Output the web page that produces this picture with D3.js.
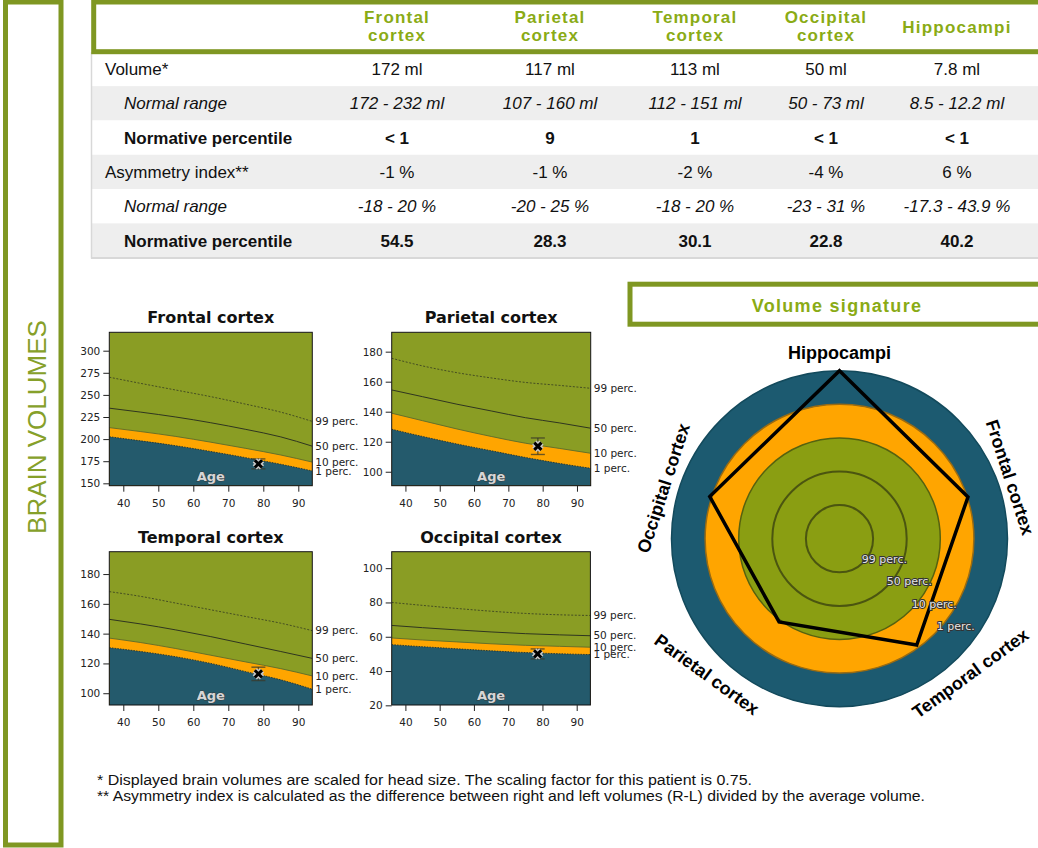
<!DOCTYPE html>
<html>
<head>
<meta charset="utf-8">
<script src="https://cdn.jsdelivr.net/npm/d3@7"></script>
<style>
  body { margin: 0; background: #fff; }
  svg { display: block; }
</style>
</head>
<body>
<div id="chart"></div>
<script>
// ---- table data ----
var regions = ["Frontal cortex", "Parietal cortex", "Temporal cortex", "Occipital cortex", "Hippocampi"];
var headerLines = [["Frontal", "cortex"], ["Parietal", "cortex"], ["Temporal", "cortex"], ["Occipital", "cortex"], ["Hippocampi"]];
var volumes = [172, 117, 113, 50, 7.8];
var volumeLow = [172, 107, 112, 50, 8.5];
var volumeHigh = [232, 160, 151, 73, 12.2];
var volumePercentile = ["< 1", "9", "1", "< 1", "< 1"];
var asymmetry = [-1, -1, -2, -4, 6];
var asymmetryLow = [-18, -20, -18, -23, -17.3];
var asymmetryHigh = [20, 25, 20, 31, 43.9];
var asymmetryPercentile = ["54.5", "28.3", "30.1", "22.8", "40.2"];

// ---- normative curves (volume in ml by age) ----
var ages = [36, 45, 55, 65, 75, 85, 94];
var frontal1  = [202.7, 198, 192.5, 186, 179, 171.5, 164];
var frontal10 = [213, 208.5, 203, 196.5, 189.5, 182, 174];
var frontal50 = [235, 230.5, 225, 218.5, 211, 202.5, 192];
var frontal99 = [270, 263, 255.5, 248, 239.5, 230.5, 220];
var parietal1  = [128.3, 123.5, 118.5, 114, 109.5, 105.5, 102.3];
var parietal10 = [139, 134, 128.5, 123.5, 119, 115.5, 112.3];
var parietal50 = [154.5, 150, 145, 140.5, 136, 132.5, 129];
var parietal99 = [175.6, 170.5, 166, 162.5, 159.5, 157.5, 155.6];
var temporal1  = [130.6, 128, 124.5, 120, 114.5, 109, 102.7];
var temporal10 = [137, 134, 130, 125.5, 121, 116.5, 111.6];
var temporal50 = [149.6, 146.5, 142.5, 138, 133, 128, 123.4];
var temporal99 = [168.2, 165, 160.5, 156, 151.5, 147, 142];
var occipital1  = [55.4, 54.2, 53, 51.8, 50.8, 50.1, 49.6];
var occipital10 = [59.3, 58.1, 57, 55.9, 55, 54.4, 53.9];
var occipital50 = [66.6, 65.3, 64, 62.8, 61.8, 61.1, 60.6];
var occipital99 = [80, 78.3, 76.5, 74.9, 73.6, 72.8, 72.4];

var ageTicks = [40, 50, 60, 70, 80, 90];
var frontalTicks = [150, 175, 200, 225, 250, 275, 300];
var parietalTicks = [100, 120, 140, 160, 180];
var temporalTicks = [100, 120, 140, 160, 180];
var occipitalTicks = [20, 40, 60, 80, 100];
var curveLabels = ["1 perc.", "10 perc.", "50 perc.", "99 perc."];

// patient
var patientAge = 78.6;
var volumeError = [5.6, 5.5, 4.5, 2.9];

// ---- volume signature (ring level, 1 = 99 perc. ... 5 = outer) ----
var radarOrder = ["Hippocampi", "Frontal cortex", "Temporal cortex", "Parietal cortex", "Occipital cortex"];
var radarLevel = [5.0, 4.02, 3.91, 3.06, 4.06];
var ringNames = ["99 perc.", "50 perc.", "10 perc.", "1 perc."];

var footnotes = [
    "* Displayed brain volumes are scaled for head size. The scaling factor for this patient is 0.75.",
    "** Asymmetry index is calculated as the difference between right and left volumes (R-L) divided by the average volume."
];

// ---- colours ----
var border = "#7f9722";
var headGreen = "#8aab15";
var olive = "#8a9d24";
var orange = "#ffa500";
var teal = "#245a6c";

var W = 1038, H = 848;
var svg = d3.select("#chart").append("svg")
    .attr("width", W).attr("height", H)
    .style("font-family", "'Liberation Sans', Arial, sans-serif");

// left side label box
svg.append("rect")
    .attr("x", 5.5).attr("y", 2).attr("width", 55.5).attr("height", 843)
    .attr("fill", "none").attr("stroke", border).attr("stroke-width", 5);
svg.append("text")
    .attr("transform", "translate(46,427) rotate(-90)")
    .attr("text-anchor", "middle")
    .attr("fill", "#86a02a")
    .style("font-size", "26px")
    .text("BRAIN VOLUMES");

// ---- table ----
var colX = [397, 550, 695, 826, 957];
var rowY = function(i) { return 69 + i * 34.3; };

var rows = [
    {label: "Volume*", x: 105, style: "normal", weight: "normal",
     values: volumes.map(function(v) { return v + " ml"; })},
    {label: "Normal range", x: 124, style: "italic", weight: "normal",
     values: volumeLow.map(function(v, i) { return v + " - " + volumeHigh[i] + " ml"; })},
    {label: "Normative percentile", x: 124, style: "normal", weight: "bold",
     values: volumePercentile},
    {label: "Asymmetry index**", x: 105, style: "normal", weight: "normal",
     values: asymmetry.map(function(v) { return v + " %"; })},
    {label: "Normal range", x: 124, style: "italic", weight: "normal",
     values: asymmetryLow.map(function(v, i) { return v + " - " + asymmetryHigh[i] + " %"; })},
    {label: "Normative percentile", x: 124, style: "normal", weight: "bold",
     values: asymmetryPercentile}
];

var table = svg.append("g");
table.selectAll(".rowbg")
    .data(rows)
    .enter()
    .append("rect")
    .attr("class", "rowbg")
    .attr("x", 92).attr("width", W - 92)
    .attr("y", function(d, i) { return rowY(i) - 17.15; })
    .attr("height", 34.3)
    .attr("fill", function(d, i) { return i % 2 ? "#eeeeee" : "#ffffff"; });
table.append("line")
    .attr("x1", 91.5).attr("x2", 91.5).attr("y1", 52).attr("y2", 258.5)
    .attr("stroke", "#d8d8d8").attr("stroke-width", 1.5);
table.append("line")
    .attr("x1", 91).attr("x2", W).attr("y1", 258).attr("y2", 258)
    .attr("stroke", "#d8d8d8").attr("stroke-width", 2);

var rowG = table.selectAll(".row")
    .data(rows)
    .enter()
    .append("g")
    .attr("class", "row")
    .attr("transform", function(d, i) { return "translate(0," + (rowY(i) + 6) + ")"; })
    .style("font-style", function(d) { return d.style; })
    .style("font-weight", function(d) { return d.weight; })
    .style("font-size", "17px")
    .attr("fill", "#111");
rowG.append("text")
    .attr("x", function(d) { return d.x; })
    .text(function(d) { return d.label; });
rowG.selectAll(".cell")
    .data(function(d) { return d.values; })
    .enter()
    .append("text")
    .attr("class", "cell")
    .attr("x", function(d, i) { return colX[i]; })
    .attr("text-anchor", "middle")
    .text(function(d) { return d; });

// header box
svg.append("rect")
    .attr("x", 93.7).attr("y", 2).attr("width", 960).attr("height", 49.7)
    .attr("fill", "#fff").attr("stroke", border).attr("stroke-width", 5);
var head = svg.selectAll(".head")
    .data(headerLines)
    .enter()
    .append("text")
    .attr("class", "head")
    .attr("text-anchor", "middle")
    .attr("fill", headGreen)
    .style("font-weight", "bold")
    .style("font-size", "17px")
    .style("letter-spacing", "1.2px");
head.selectAll("tspan")
    .data(function(d) { return d; })
    .enter()
    .append("tspan")
    .attr("x", function() { return colX[headerLines.indexOf(d3.select(this.parentNode).datum())]; })
    .attr("y", function(d, i, n) { return n.length === 1 ? 33 : (i === 0 ? 23 : 41); })
    .text(function(d) { return d; });

// ---- small normative charts ----
var chartSpecs = [
    {name: regions[0], p: [frontal1, frontal10, frontal50, frontal99], yDomain: [147.3, 320.8], ticks: frontalTicks},
    {name: regions[1], p: [parietal1, parietal10, parietal50, parietal99], yDomain: [90.7, 192.9], ticks: parietalTicks},
    {name: regions[2], p: [temporal1, temporal10, temporal50, temporal99], yDomain: [92.1, 195], ticks: temporalTicks},
    {name: regions[3], p: [occipital1, occipital10, occipital50, occipital99], yDomain: [20.2, 109.6], ticks: occipitalTicks}
];
var cells = [
    {x: 109.3, y: 332.3, w: 203, h: 153.4},
    {x: 391.7, y: 332.3, w: 199, h: 153.4},
    {x: 109.3, y: 551.7, w: 203, h: 153.3},
    {x: 391.7, y: 551.7, w: 198.7, h: 153.3}
];
var lineStyles = [
    {stroke: "#1d3336", width: 0.9, dash: "1.5,1.2"},
    {stroke: "#5d6b2a", width: 0.9, dash: null},
    {stroke: "#2f3520", width: 1.0, dash: null},
    {stroke: "#343a22", width: 0.8, dash: "2,1.6"}
];

chartSpecs.forEach(function(spec, k) {
    var c = cells[k];
    var g = svg.append("g")
        .attr("transform", "translate(" + c.x + "," + c.y + ")")
        .style("font-family", "'DejaVu Sans', sans-serif");
    var x = d3.scaleLinear().domain([36, 94]).range([0, c.w]);
    var y = d3.scaleLinear().domain(spec.yDomain).range([c.h, 0]);

    g.append("clipPath").attr("id", "clip" + k)
        .append("rect").attr("width", c.w).attr("height", c.h);
    var plot = g.append("g").attr("clip-path", "url(#clip" + k + ")");

    plot.append("rect").attr("width", c.w).attr("height", c.h).attr("fill", olive);
    var area = function(vals) {
        return d3.area()
            .x(function(d, i) { return x(ages[i]); })
            .y0(c.h)
            .y1(function(d) { return y(d); })
            .curve(d3.curveMonotoneX)(vals);
    };
    plot.append("path").attr("d", area(spec.p[1])).attr("fill", orange);
    plot.append("path").attr("d", area(spec.p[0])).attr("fill", teal);

    var line = d3.line()
        .x(function(d, i) { return x(ages[i]); })
        .y(function(d) { return y(d); })
        .curve(d3.curveMonotoneX);
    spec.p.forEach(function(vals, j) {
        var s = lineStyles[j];
        plot.append("path")
            .attr("d", line(vals))
            .attr("fill", "none")
            .attr("stroke", s.stroke)
            .attr("stroke-width", s.width)
            .attr("stroke-dasharray", s.dash);
    });

    plot.append("text")
        .attr("x", c.w / 2).attr("y", c.h - 5)
        .attr("text-anchor", "middle")
        .attr("fill", "#d6d6d6")
        .attr("stroke", "#3a3a3a").attr("stroke-width", 0.8)
        .style("paint-order", "stroke")
        .style("font-weight", "bold").style("font-size", "13px")
        .text("Age");

    // patient marker with error bar
    var v = volumes[k], e = volumeError[k], px = x(patientAge);
    var eb = g.append("g").attr("stroke", "#3a3a2a").attr("stroke-opacity", 0.75).attr("stroke-width", 1.4);
    eb.append("line").attr("x1", px).attr("x2", px).attr("y1", y(v - e)).attr("y2", y(v + e));
    [v - e, v + e].forEach(function(t) {
        eb.append("line").attr("x1", px - 7).attr("x2", px + 7).attr("y1", y(t)).attr("y2", y(t));
    });
    var cross = "M-3.6,-3.6L3.6,3.6M-3.6,3.6L3.6,-3.6";
    g.append("path").attr("d", cross)
        .attr("transform", "translate(" + px + "," + y(v) + ")")
        .attr("stroke", "#c8c8c8").attr("stroke-width", 6).attr("fill", "none");
    g.append("path").attr("d", cross)
        .attr("transform", "translate(" + px + "," + y(v) + ")")
        .attr("stroke", "#000").attr("stroke-width", 3).attr("fill", "none");

    // frame and axes
    g.append("rect").attr("width", c.w).attr("height", c.h)
        .attr("fill", "none").attr("stroke", "#111").attr("stroke-width", 1);
    var yAxis = g.append("g")
        .call(d3.axisLeft(y).tickValues(spec.ticks).tickSize(6).tickPadding(3).tickSizeOuter(0));
    var xAxis = g.append("g").attr("transform", "translate(0," + c.h + ")")
        .call(d3.axisBottom(x).tickValues(ageTicks).tickSize(6).tickPadding(8).tickSizeOuter(0));
    [xAxis, yAxis].forEach(function(a) {
        a.select(".domain").remove();
        a.selectAll("line").attr("stroke", "#222");
        a.selectAll("text").attr("fill", "#222")
            .style("font-size", "10.5px").style("font-family", "'DejaVu Sans', sans-serif");
    });

    // curve labels at the right
    g.selectAll(".plabel")
        .data(spec.p)
        .enter()
        .append("text")
        .attr("class", "plabel")
        .attr("x", c.w + 3)
        .attr("y", function(d) { return y(d[d.length - 1]); })
        .attr("dy", "0.35em")
        .attr("fill", "#222")
        .style("font-size", "10.5px")
        .text(function(d, j) { return curveLabels[j]; });

    g.append("text")
        .attr("x", c.w / 2).attr("y", -9)
        .attr("text-anchor", "middle")
        .attr("fill", "#111")
        .style("font-weight", "bold").style("font-size", "16px")
        .text(spec.name);
});

// ---- volume signature ----
svg.append("rect")
    .attr("x", 630).attr("y", 284.2).attr("width", 420).attr("height", 40)
    .attr("fill", "#fff").attr("stroke", border).attr("stroke-width", 5);
svg.append("text")
    .attr("x", 837).attr("y", 311.5)
    .attr("text-anchor", "middle")
    .attr("fill", headGreen)
    .style("font-weight", "bold").style("font-size", "18px").style("letter-spacing", "1.3px")
    .text("Volume signature");

var cx = 839.5, cy = 538.7;
var r = d3.scaleLinear().domain([0, 5]).range([0, 168]);
var radar = svg.append("g").attr("transform", "translate(" + cx + "," + cy + ")");

var rings = [
    {level: 5, fill: "#1c5a70", stroke: "#134a5c", width: 1.5},
    {level: 4, fill: orange, stroke: "#9a6b12", width: 1.5},
    {level: 3, fill: "#8a9e12", stroke: "#56620f", width: 1.5},
    {level: 2, fill: "none", stroke: "#4b5510", width: 2},
    {level: 1, fill: "none", stroke: "#4b5510", width: 2}
];
radar.selectAll(".ring")
    .data(rings)
    .enter()
    .append("circle")
    .attr("class", "ring")
    .attr("r", function(d) { return r(d.level); })
    .attr("fill", function(d) { return d.fill; })
    .attr("stroke", function(d) { return d.stroke; })
    .attr("stroke-width", function(d) { return d.width; });

var step = 2 * Math.PI / radarOrder.length;
var radial = d3.lineRadial()
    .angle(function(d, i) { return i * step; })
    .radius(function(d) { return r(d); })
    .curve(d3.curveLinearClosed);
radar.append("path")
    .attr("d", radial(radarLevel))
    .attr("fill", "none")
    .attr("stroke", "#000")
    .attr("stroke-width", 3.5)
    .attr("stroke-linejoin", "miter");

// ring labels along the lower-right diagonal
var ringAngle = 42 * Math.PI / 180;
radar.selectAll(".ringlabel")
    .data(ringNames)
    .enter()
    .append("text")
    .attr("class", "ringlabel")
    .attr("x", function(d, i) { return (r(i + 1) - 3.5) * Math.cos(ringAngle); })
    .attr("y", function(d, i) { return (r(i + 1) - 3.5) * Math.sin(ringAngle) + 4; })
    .attr("fill", "#e4e4e4")
    .attr("stroke", "#333").attr("stroke-width", 2)
    .style("paint-order", "stroke")
    .style("font-family", "'DejaVu Sans', sans-serif")
    .style("font-size", "11px")
    .text(function(d) { return d; });

// axis labels
var labelNudge = [0, -1.8, -8.2, 8.3, -2];
var labelRadius = [185.7, 181, 188, 190, 183];
radar.selectAll(".axlabel")
    .data(radarOrder)
    .enter()
    .append("text")
    .attr("class", "axlabel")
    .attr("text-anchor", "middle")
    .attr("dominant-baseline", "central")
    .attr("transform", function(d, i) {
        var a = i * 72 + labelNudge[i];
        var rad = a * Math.PI / 180;
        var px = labelRadius[i] * Math.sin(rad), py = -labelRadius[i] * Math.cos(rad);
        var rot = i * 72;
        if (rot > 90 && rot < 270) rot -= 180;
        return "translate(" + px + "," + py + ") rotate(" + rot + ")";
    })
    .attr("fill", "#000")
    .style("font-weight", "bold").style("font-size", "18px")
    .text(function(d) { return d; });

// footnotes
svg.selectAll(".foot")
    .data(footnotes)
    .enter()
    .append("text")
    .attr("class", "foot")
    .attr("x", 97)
    .attr("y", function(d, i) { return 785 + i * 16; })
    .attr("textLength", function(d, i) { return i ? 828 : 655; })
    .attr("lengthAdjust", "spacingAndGlyphs")
    .attr("fill", "#111")
    .style("font-size", "14px")
    .text(function(d) { return d; });
</script>
</body>
</html>
